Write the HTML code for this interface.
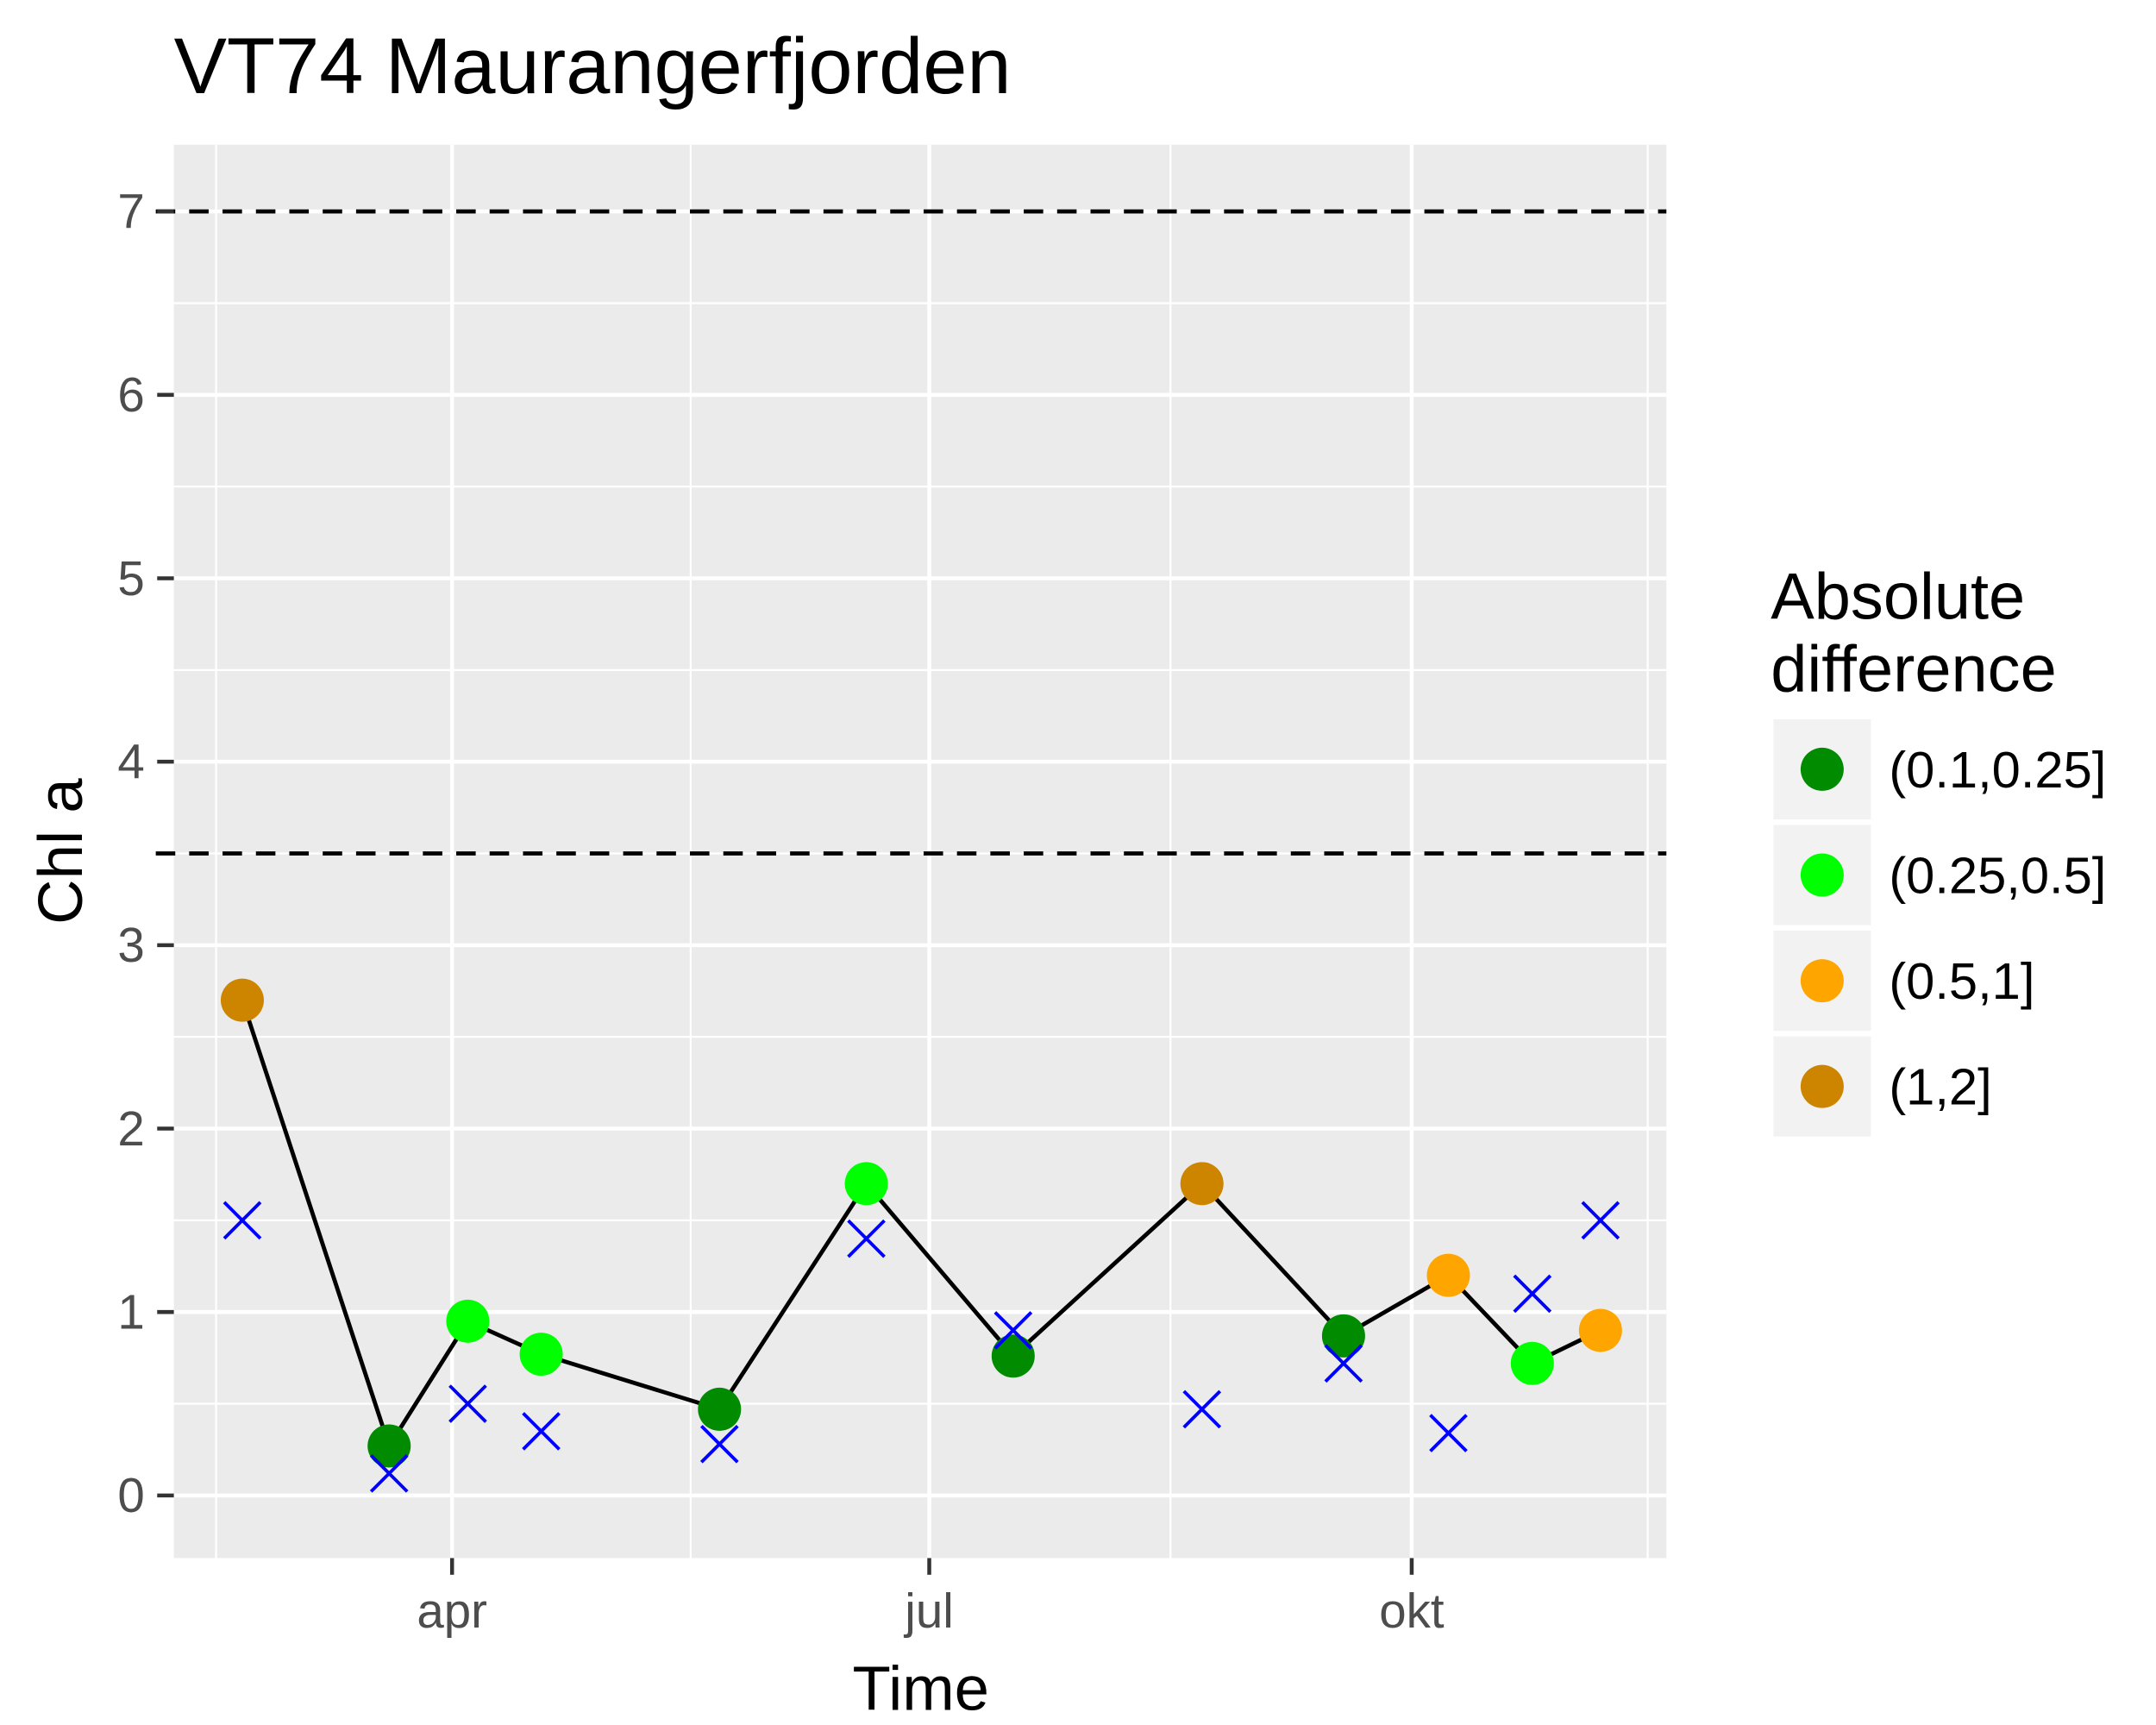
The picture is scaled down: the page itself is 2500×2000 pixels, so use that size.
<!DOCTYPE html>
<html><head><meta charset="utf-8"><style>html,body{margin:0;padding:0;background:#fff}svg{display:block}</style></head>
<body>
<svg id="chart" width="2500" height="2000" viewBox="0 0 1550 1240" xmlns="http://www.w3.org/2000/svg" font-family="Liberation Sans, Arial, sans-serif">
<rect width="1550" height="1240" fill="#fff"/>
<text x="125" y="67" font-size="57" fill="#000">VT74 Maurangerfjorden</text>
<rect x="125" y="104" width="1073" height="1016" fill="#ebebeb"/>
<g id="grid"></g>
<g id="marks"></g>
<g id="axes"></g>
<text x="662" y="1229" font-size="45" text-anchor="middle">Time</text>
<text transform="translate(59,612) rotate(-90)" font-size="45" text-anchor="middle">Chl a</text>
<g>
<text x="1273" y="445" font-size="47">Absolute</text>
<text x="1273" y="497" font-size="47">difference</text>
<g id="legend-keys"></g>
</g>
</svg>
<script>
const days = [51, 79, 94, 108, 142, 170, 198, 234, 261, 281, 297, 310];
const chlValues = [2.7, 0.27, 0.95, 0.77, 0.47, 1.7, 0.76, 1.7, 0.87, 1.2, 0.72, 0.9];
const refValues = [1.5, 0.12, 0.5, 0.35, 0.28, 1.4, 0.9, 0.47, 0.72, 0.34, 1.1, 1.5];
const diffClass = [3, 0, 1, 1, 0, 1, 0, 3, 0, 2, 1, 2];
const classLabels = ["(0.1,0.25]", "(0.25,0.5]", "(0.5,1]", "(1,2]"];
const classColors = ["#008b00", "#00ff00", "#ffa500", "#cd8500"];
const yTicks = [0, 1, 2, 3, 4, 5, 6, 7];
const yMinor = [0.5, 1.5, 2.5, 3.5, 4.5, 5.5, 6.5];
const xTickDays = [91, 182, 274];
const xTickLabels = ["apr", "jul", "okt"];
const xMinorDays = [46, 136.5, 228, 319];
const thresholds = [7, 3.5];

const NS = "http://www.w3.org/2000/svg";
const X = d => 325 + (d - 91) * 3.77;
const Y = v => 1075 - v * 131.86;
function mk(tag, attrs, parent) {
  const e = document.createElementNS(NS, tag);
  for (const k in attrs) e.setAttribute(k, attrs[k]);
  parent.appendChild(e);
  return e;
}
const grid = document.getElementById('grid'), marks = document.getElementById('marks'), axes = document.getElementById('axes');
yMinor.forEach(v => {
  const l = mk('line', {x1:125, x2:1198, y1:Y(v), y2:Y(v), stroke:'#fff', 'stroke-width':1.4}, grid);
  
  
});
xMinorDays.forEach(d => {
  const l = mk('line', {x1:X(d), x2:X(d), y1:104, y2:1120, stroke:'#fff', 'stroke-width':1.4}, grid);
  
  
});
yTicks.forEach(v => {
  const l = mk('line', {x1:125, x2:1198, y1:Y(v), y2:Y(v), stroke:'#fff', 'stroke-width':2.8}, grid);
  
  
  const t = mk('line', {x1:113, x2:125, y1:Y(v), y2:Y(v), stroke:'#333', 'stroke-width':2.8}, axes);
  
  
  const tx = mk('text', {x:104, y:Y(v)+12, 'font-size':35, fill:'#4d4d4d', 'text-anchor':'end'}, axes);
  tx.textContent = v;
  
  
});
xTickDays.forEach((d, i) => {
  const l = mk('line', {x1:X(d), x2:X(d), y1:104, y2:1120, stroke:'#fff', 'stroke-width':2.8}, grid);
  
  
  const t = mk('line', {x1:X(d), x2:X(d), y1:1120, y2:1132, stroke:'#333', 'stroke-width':2.8}, axes);
  
  
  const tx = mk('text', {x:X(d), y:1170, 'font-size':35, fill:'#4d4d4d', 'text-anchor':'middle'}, axes);
  tx.textContent = xTickLabels[i];
  
  
});
thresholds.forEach(v => {
  const l = mk('line', {x1:112, x2:1198, y1:Y(v), y2:Y(v), stroke:'#000', 'stroke-width':3, 'stroke-dasharray':'14 10'}, marks);
  
  
});
const p = mk('polyline', {points: days.map((d,i)=>X(d)+','+Y(chlValues[i])).join(' '), fill:'none', stroke:'#000', 'stroke-width':3}, marks);


days.forEach((d, i) => {
  const c = mk('circle', {cx:X(d), cy:Y(chlValues[i]), r:15.5, fill:classColors[diffClass[i]]}, marks);
  
  
});
days.forEach((d, i) => {
  const x = X(d), y = Y(refValues[i]), s = 13;
  const g = mk('path', {d:`M${x-s},${y-s}L${x+s},${y+s}M${x-s},${y+s}L${x+s},${y-s}`, stroke:'#0000ff', 'stroke-width':2.4, fill:'none'}, marks);
  
  
});
const lk = document.getElementById('legend-keys');
classLabels.forEach((lab, i) => {
  const y0 = 517 + i * 76;
  const r = mk('rect', {x:1275, y:y0, width:70, height:72, fill:'#f2f2f2'}, lk);
  
  
  const c = mk('circle', {cx:1310, cy:y0+36, r:15.5, fill:classColors[i]}, lk);
  
  
  const t = mk('text', {x:1358, y:y0+49, 'font-size':37, fill:'#000'}, lk);
  t.textContent = lab;
  
  
});
</script>
</body></html>
